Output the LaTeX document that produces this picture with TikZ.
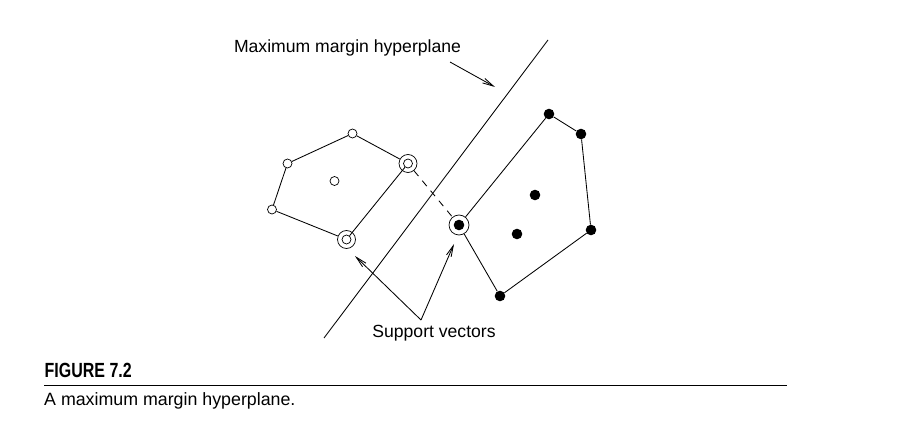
\documentclass[tikz,border=0pt]{standalone}
\usepackage{fontspec}
\setmainfont{Liberation Sans}
\newfontfamily\figfont[FakeStretch=0.78]{Liberation Sans}
\usetikzlibrary{arrows.meta}
\begin{document}
\begin{tikzpicture}[x=1pt,y=-1pt,
  ln/.style={line width=0.85pt},
  opn/.style={circle,draw,line width=0.7pt,minimum size=9pt,inner sep=0pt},
  fil/.style={circle,fill=black,minimum size=10.6pt,inner sep=0pt},
  ring/.style={circle,draw,line width=0.7pt,minimum size=#1,inner sep=0pt},
  ptr/.style={line width=0.85pt,-{Straight Barb[length=11pt,width=5pt]}},
  lbl/.style={font=\fontsize{17.6}{21}\selectfont,inner sep=0pt,anchor=base}]
\useasboundingbox (0,0) rectangle (904,438);
% open class
\node[opn] (A) at (352.5,133.5) {};
\node[opn] (B) at (287.5,163.5) {};
\node[opn] (C) at (272,209.5) {};
\node[opn] (D) at (408,163.5) {};
\node[opn] (E) at (346.5,239.5) {};
\node[opn] (F) at (334.5,181) {};
\node[ring=18pt] (Do) at (408,163.5) {};
\node[ring=18pt] (Eo) at (346.5,239.5) {};
\draw[ln] (A) -- (Do) (D) -- (E) (Eo) -- (C) (C) -- (B) (B) -- (A);
% filled class
\node[fil] (G) at (549,114) {};
\node[fil] (H) at (581,134) {};
\node[fil] (I) at (591,230) {};
\node[fil] (J) at (500,296) {};
\node[fil] (K) at (459,225) {};
\node[fil] (L1) at (535,195) {};
\node[fil] (L2) at (517,234) {};
\node[ring=20pt] (Ko) at (459,225) {};
\draw[ln] (Ko) -- (G) -- (H) -- (I) -- (J) -- (Ko);
% hyperplane
\coordinate (h1) at (548,40);
\coordinate (h2) at (324,338);
\draw[ln] (h1) -- (h2);
\draw[ln,dash pattern=on 7pt off 6pt] (Do) -- (Ko);
% labels
\node[lbl] (mm) at (347.5,53) {Maximum margin hyperplane};
\coordinate (m1) at (450,62);
\coordinate (m2) at (495,87);
\draw[ptr] (m1) -- (m2);
\node[lbl] (sv) at (434,337) {Support vectors};
\coordinate (s0) at (421,320);
\coordinate (s1) at (355,256);
\coordinate (s2) at (454,244);
\draw[ptr] (s0) -- (s1);
\draw[ptr] (s0) -- (s2);
% caption
\node[inner sep=0pt,anchor=base west,font=\figfont\bfseries\fontsize{20.5}{24}\selectfont] (fig) at (44.5,377) {FIGURE 7.2};
\coordinate (r1) at (44,385.5);
\coordinate (r2) at (787,385.5);
\draw[line width=1.4pt] (r1) -- (r2);
\node[inner sep=0pt,anchor=base west,font=\fontsize{17.8}{21}\selectfont] (cap) at (44,405) {A maximum margin hyperplane.};
\end{tikzpicture}
\end{document}
